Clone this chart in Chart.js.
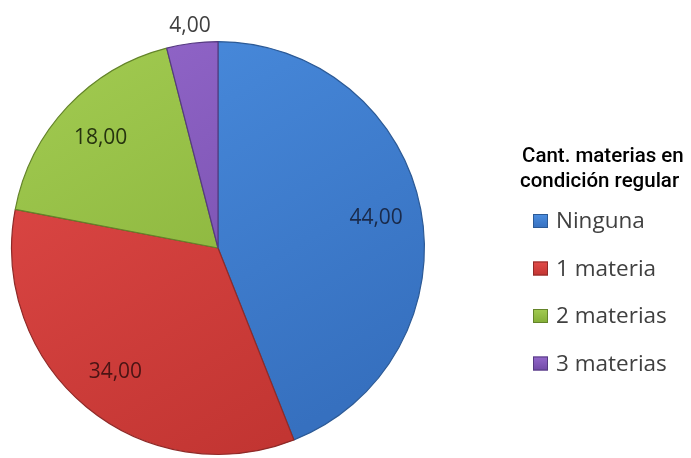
<!DOCTYPE html>
<html>
<head>
<meta charset="utf-8">
<script src="https://cdn.jsdelivr.net/npm/chart.js@4.4.0/dist/chart.umd.min.js"></script>
<style>
  html, body { margin: 0; padding: 0; background: #fff; }
  #pie { display: block; }
</style>
</head>
<body>
<canvas id="pie" width="691" height="458"></canvas>
<script>
// datos
var categorias = ['Ninguna', '1 materia', '2 materias', '3 materias'];
var valores = [44, 34, 18, 4];
var tituloLeyenda = ['Cant. materias en', 'condición regular'];

// colores (relleno claro, relleno oscuro, borde, texto de etiqueta)
var colorClaro = ['#4b8ee0', '#e24b49', '#a3cc52', '#9468cc'];
var colorOscuro = ['#3670bf', '#c23532', '#83ad36', '#714aa6'];
var colorBorde = ['#2c5a96', '#8f2a28', '#64842a', '#553a80'];
var colorTexto = ['#1a2a4a', '#4a1414', '#26330f', '#404040'];

function fmt(v) {
    return v.toFixed(2).replace('.', ',');
}

// etiquetas de valor sobre cada porción
var etiquetas = {
    id: 'etiquetas',
    afterDatasetsDraw: function (chart) {
        var ctx = chart.ctx;
        var meta = chart.getDatasetMeta(0);
        var total = valores.reduce(function (a, b) { return a + b; }, 0);
        ctx.save();
        ctx.font = '21px "Open Sans"';
        ctx.textAlign = 'center';
        ctx.textBaseline = 'middle';
        meta.data.forEach(function (arc, i) {
            var p = arc.getProps(['x', 'y', 'startAngle', 'endAngle', 'outerRadius']);
            var mid = (p.startAngle + p.endAngle) / 2;
            var r = valores[i] / total < 0.05 ? p.outerRadius + 17 : p.outerRadius * 0.78;
            ctx.fillStyle = colorTexto[i];
            ctx.fillText(fmt(valores[i]), p.x + Math.cos(mid) * r, p.y + Math.sin(mid) * r);
        });
        ctx.restore();
    }
};

// leyenda con título a la derecha
var leyenda = {
    id: 'leyenda',
    afterDraw: function (chart) {
        var ctx = chart.ctx;
        ctx.save();
        ctx.fillStyle = '#000';
        ctx.font = '500 20.5px Roboto';
        ctx.textAlign = 'left';
        ctx.textBaseline = 'alphabetic';
        ctx.fillText(tituloLeyenda[0], 522, 162);
        ctx.fillText(tituloLeyenda[1], 520, 187);

        ctx.font = '22.5px "Open Sans"';
        ctx.textBaseline = 'middle';
        categorias.forEach(function (c, i) {
            var y = 221 + i * 47.5;
            var g = ctx.createLinearGradient(0, y - 7, 0, y + 7);
            g.addColorStop(0, colorClaro[i]);
            g.addColorStop(1, colorOscuro[i]);
            ctx.fillStyle = g;
            ctx.fillRect(533, y - 7, 15, 14);
            ctx.strokeStyle = colorBorde[i];
            ctx.lineWidth = 1;
            ctx.strokeRect(533.5, y - 6.5, 14, 13);
            ctx.fillStyle = '#404040';
            ctx.fillText(c, 556, y + 1);
        });
        ctx.restore();
    }
};

var ctx = document.getElementById('pie').getContext('2d');
var chart = new Chart(ctx, {
    type: 'pie',
    data: {
        labels: categorias,
        datasets: [{
            data: valores,
            backgroundColor: function (c) {
                var area = c.chart.chartArea;
                if (!area) return colorClaro[c.dataIndex];
                var g = c.chart.ctx.createLinearGradient(area.left, area.top, area.right * 0.6, area.bottom);
                g.addColorStop(0, colorClaro[c.dataIndex]);
                g.addColorStop(1, colorOscuro[c.dataIndex]);
                return g;
            },
            borderColor: colorBorde,
            borderWidth: 1.2
        }]
    },
    options: {
        responsive: false,
        animation: false,
        layout: {
            padding: { left: 11, right: 266, top: 41, bottom: 3 }
        },
        plugins: {
            legend: { display: false },
            tooltip: { enabled: false }
        }
    },
    plugins: [etiquetas, leyenda]
});
</script>
</body>
</html>
